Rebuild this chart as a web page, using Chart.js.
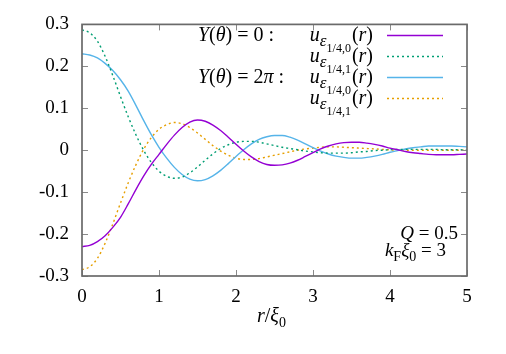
<!DOCTYPE html>
<html>
<head>
<meta charset="utf-8">
<script src="https://cdn.jsdelivr.net/npm/chart.js@4.4.1/dist/chart.umd.min.js"></script>
<style>
    html, body { margin: 0; padding: 0; background: #fff; }
    #wrap { width: 506px; height: 354px; }
</style>
</head>
<body>
<div id="wrap"><canvas id="waveChart"></canvas></div>
<script>
// r / xi_0 sample points
const radius = [
    0.0, 0.1, 0.2, 0.3, 0.4, 0.5, 0.6, 0.7, 0.8, 0.9,
    1.0, 1.1, 1.2, 1.3, 1.4, 1.5, 1.6, 1.7, 1.8, 1.9,
    2.0, 2.1, 2.2, 2.3, 2.4, 2.5, 2.6, 2.7, 2.8, 2.9,
    3.0, 3.1, 3.2, 3.3, 3.4, 3.5, 3.6, 3.7, 3.8, 3.9,
    4.0, 4.1, 4.2, 4.3, 4.4, 4.5, 4.6, 4.7, 4.8, 4.9, 5.0
];

// Y(theta) = 0, n = 0
const u0Zero = [
    -0.230, -0.227, -0.218, -0.204, -0.184, -0.160, -0.128, -0.094, -0.062, -0.034,
    -0.010, 0.014, 0.036, 0.054, 0.067, 0.072, 0.069, 0.060, 0.047, 0.031,
    0.014, -0.002, -0.016, -0.027, -0.034, -0.036, -0.035, -0.031, -0.024, -0.015,
    -0.006, 0.003, 0.010, 0.015, 0.018, 0.019, 0.019, 0.017, 0.014, 0.010,
    0.005, 0.001, -0.003, -0.006, -0.008, -0.010, -0.011, -0.011, -0.011, -0.010, -0.009
];
// Y(theta) = 0, n = 1
const u0One = [
    0.287, 0.280, 0.260, 0.224, 0.178, 0.128, 0.080, 0.037, 0.000, -0.029,
    -0.050, -0.062, -0.067, -0.064, -0.054, -0.040, -0.024, -0.009, 0.004, 0.013,
    0.019, 0.021, 0.021, 0.019, 0.015, 0.011, 0.007, 0.004, 0.001, -0.002,
    -0.004, -0.006, -0.007, -0.007, -0.007, -0.006, -0.004, -0.003, -0.001, 0.000,
    0.001, 0.002, 0.002, 0.002, 0.002, 0.002, 0.002, 0.001, 0.001, 0.001, 0.000
];
// Y(theta) = 2pi, n = 0
const u2piZero = [
    0.230, 0.227, 0.220, 0.207, 0.190, 0.168, 0.141, 0.107, 0.071, 0.037,
    0.007, -0.019, -0.041, -0.058, -0.069, -0.073, -0.070, -0.061, -0.048, -0.032,
    -0.015, 0.001, 0.015, 0.026, 0.032, 0.035, 0.035, 0.031, 0.024, 0.015,
    0.006, -0.002, -0.009, -0.014, -0.017, -0.019, -0.019, -0.017, -0.014, -0.010,
    -0.005, -0.001, 0.003, 0.006, 0.008, 0.010, 0.010, 0.010, 0.010, 0.009, 0.008
];
// Y(theta) = 2pi, n = 1
const u2piOne = [
    -0.285, -0.278, -0.258, -0.222, -0.176, -0.126, -0.078, -0.035, 0.002, 0.030,
    0.050, 0.061, 0.066, 0.063, 0.054, 0.041, 0.026, 0.011, -0.002, -0.012,
    -0.019, -0.022, -0.022, -0.020, -0.016, -0.012, -0.008, -0.004, 0.000, 0.003,
    0.005, 0.007, 0.008, 0.008, 0.007, 0.006, 0.005, 0.004, 0.003, 0.002,
    0.001, 0.000, 0.000, 0.000, 0.000, 0.000, 0.000, 0.000, 0.000, 0.000, 0.000
];

const xTicks = [0, 1, 2, 3, 4, 5];
const yTicks = [-0.3, -0.2, -0.1, 0, 0.1, 0.2, 0.3];
const seriesSubs = ['1/4,0', '1/4,1', '1/4,0', '1/4,1'];

const SERIF = "'Liberation Serif', 'Times New Roman', 'DejaVu Serif', serif";

function pairs(ys) {
    return radius.map((r, i) => ({ x: r, y: ys[i] }));
}

function series(ys, color, dash) {
    return {
        data: pairs(ys),
        borderColor: color,
        borderWidth: 1.4,
        borderDash: dash,
        pointRadius: 0,
        cubicInterpolationMode: 'monotone',
        fill: false
    };
}

function runFont(run) {
    return (run.it ? 'italic ' : '') + run.size + 'px ' + SERIF;
}

// draw a run of text pieces (italic / size / shift) left to right
function drawRuns(ctx, x, base, runs) {
    runs.forEach(run => {
        ctx.font = runFont(run);
        ctx.fillText(run.t, x, base + (run.dy || 0));
        x += ctx.measureText(run.t).width + (run.gap || 0);
    });
    return x;
}

// same, but ending at x
function drawRunsRight(ctx, right, base, runs) {
    let w = 0;
    runs.forEach(run => {
        ctx.font = runFont(run);
        w += ctx.measureText(run.t).width + (run.gap || 0);
    });
    return drawRuns(ctx, right - w, base, runs);
}

const framePlugin = {
    id: 'framePlugin',
    afterDraw(chart) {
        const { ctx, chartArea: a, scales } = chart;
        const x = scales.x, y = scales.y;
        ctx.save();

        // inward ticks on all four sides
        ctx.strokeStyle = '#8a8a8a';
        ctx.lineWidth = 1;
        ctx.beginPath();
        xTicks.forEach(v => {
            const px = Math.round(x.getPixelForValue(v)) + 0.5;
            ctx.moveTo(px, a.bottom); ctx.lineTo(px, a.bottom - 6);
            ctx.moveTo(px, a.top); ctx.lineTo(px, a.top + 6);
        });
        yTicks.forEach(v => {
            const py = Math.round(y.getPixelForValue(v)) + 0.5;
            ctx.moveTo(a.left, py); ctx.lineTo(a.left + 6, py);
            ctx.moveTo(a.right, py); ctx.lineTo(a.right - 6, py);
        });
        ctx.stroke();

        ctx.strokeStyle = '#6a6a6a';
        ctx.lineWidth = 1.7;
        ctx.strokeRect(a.left, a.top, a.right - a.left, a.bottom - a.top);

        ctx.fillStyle = '#000';
        ctx.textAlign = 'left';
        ctx.textBaseline = 'alphabetic';

        // legend
        chart.data.datasets.forEach((ds, i) => {
            const ly = 35.5 + 21 * i;
            const base = ly + 5.5;
            drawRunsRight(ctx, 373, base, [
                { t: 'u', it: true, size: 20 },
                { t: 'ε', it: true, size: 17, dy: 5 },
                { t: seriesSubs[i], size: 12, dy: 11, gap: 1 },
                { t: '(', size: 20 },
                { t: 'r', it: true, size: 20 },
                { t: ')', size: 20 }
            ]);
            ctx.save();
            ctx.strokeStyle = ds.borderColor;
            ctx.lineWidth = ds.borderWidth;
            ctx.setLineDash(ds.borderDash || []);
            ctx.beginPath();
            ctx.moveTo(387, ly);
            ctx.lineTo(443, ly);
            ctx.stroke();
            ctx.restore();
        });
        drawRuns(ctx, 198, 41, [
            { t: 'Y', it: true, size: 20 },
            { t: '(', size: 20 },
            { t: 'θ', it: true, size: 20 },
            { t: ') = 0 :', size: 20 }
        ]);
        drawRuns(ctx, 198, 83, [
            { t: 'Y', it: true, size: 20 },
            { t: '(', size: 20 },
            { t: 'θ', it: true, size: 20 },
            { t: ') = 2', size: 20 },
            { t: 'π', it: true, size: 20 },
            { t: ' :', size: 20 }
        ]);

        // parameters
        drawRunsRight(ctx, 458, 239, [
            { t: 'Q', it: true, size: 19 },
            { t: ' = 0.5', size: 19 }
        ]);
        drawRunsRight(ctx, 446, 256, [
            { t: 'k', it: true, size: 19 },
            { t: 'F', size: 14, dy: 5 },
            { t: 'ξ', it: true, size: 19 },
            { t: '0', size: 14, dy: 5 },
            { t: ' = 3', size: 19 }
        ]);

        // x axis title
        drawRuns(ctx, 257, 322, [
            { t: 'r', it: true, size: 20 },
            { t: '/', size: 20 },
            { t: 'ξ', it: true, size: 20 },
            { t: '0', size: 14, dy: 5 }
        ]);
        ctx.restore();
    }
};

function drawChart() {
    new Chart(document.getElementById('waveChart'), {
        type: 'line',
        data: {
            datasets: [
                series(u0Zero, '#9400d3', []),
                series(u0One, '#009e73', [2, 3]),
                series(u2piZero, '#56b4e9', []),
                series(u2piOne, '#e69f00', [2, 3])
            ]
        },
        options: {
            responsive: true,
            maintainAspectRatio: false,
            animation: false,
            layout: { padding: { left: 0, right: 39, top: 21, bottom: 0 } },
            plugins: {
                legend: { display: false },
                tooltip: { enabled: false }
            },
            scales: {
                x: {
                    type: 'linear',
                    min: 0,
                    max: 5,
                    afterFit: scale => { scale.height = 78; },
                    grid: { display: false, drawTicks: false },
                    border: { display: false },
                    ticks: {
                        stepSize: 1,
                        padding: 10,
                        color: '#000',
                        font: { family: SERIF, size: 19 },
                        maxRotation: 0
                    }
                },
                y: {
                    min: -0.3,
                    max: 0.3,
                    afterFit: scale => { scale.width = 82; },
                    grid: { display: false, drawTicks: false },
                    border: { display: false },
                    ticks: {
                        stepSize: 0.1,
                        padding: 13,
                        color: '#000',
                        font: { family: SERIF, size: 19 },
                        callback: v => String(Math.round(v * 10) / 10)
                    }
                }
            }
        },
        plugins: [framePlugin]
    });
}

// make sure the serif faces are ready before the canvas is painted
Promise.all([
    document.fonts.load("20px 'Liberation Serif'"),
    document.fonts.load("italic 20px 'Liberation Serif'")
]).catch(() => {}).then(drawChart);
</script>
</body>
</html>
